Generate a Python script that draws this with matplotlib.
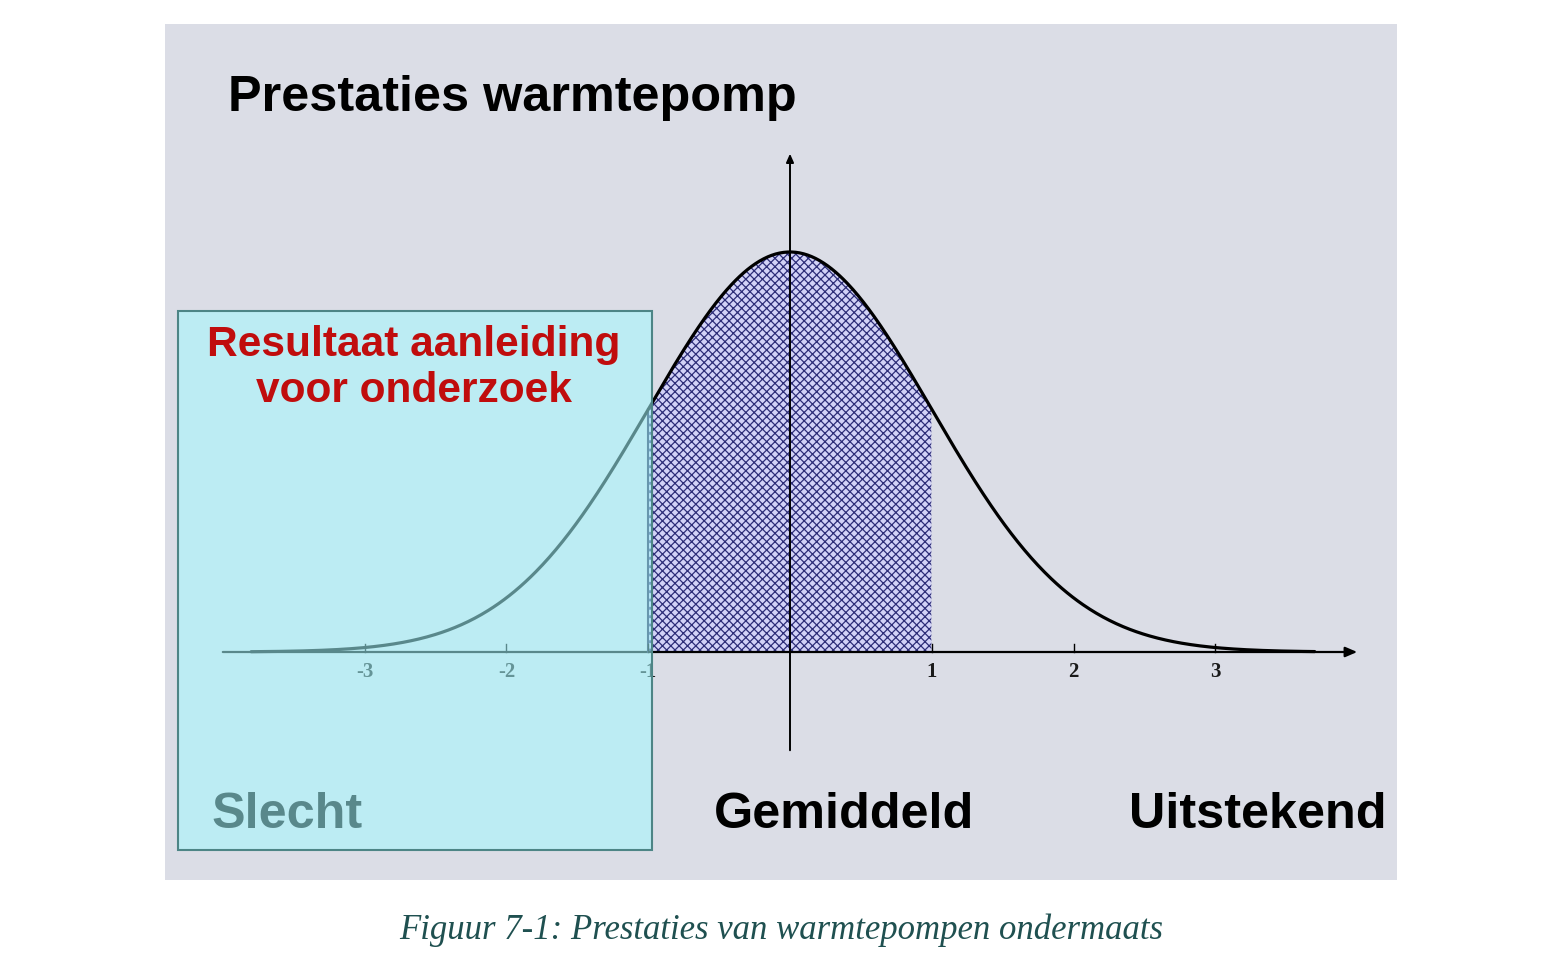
import numpy as np
import matplotlib
matplotlib.use("Agg")
import matplotlib.pyplot as plt
from matplotlib.patches import Rectangle

# ---- data ----
title = "Prestaties warmtepomp"
mean = 0.0
std = 1.0
tick_values = [-3, -2, -1, 1, 2, 3]
tick_labels = ["-3", "-2", "-1", "1", "2", "3"]
shade_range = [-1.0, 1.0]
curve_range = [-3.8, 3.7]
axis_range = [-4.0, 4.0]
category_labels = ["Slecht", "Gemiddeld", "Uitstekend"]
note_text = "Resultaat aanleiding\nvoor onderzoek"
caption = "Figuur 7-1: Prestaties van warmtepompen ondermaats"

W, H = 1568, 960
fig = plt.figure(figsize=(W / 100, H / 100), dpi=100)
fig.patch.set_facecolor("white")

# pixel mapping of the plotting axes
px_per_x = 141.8
px_per_y = 1002.7
x0_px, y0_px = 790, 652
ax = fig.add_axes([0, 0, 1, 1])
ax.set_xlim(-x0_px / px_per_x, (W - x0_px) / px_per_x)
ax.set_ylim(-(H - y0_px) / px_per_y, y0_px / px_per_y)
ax.axis("off")
FT = fig.transFigure

def fx(px):
    return px / W

def fy(py):
    return 1 - py / H

# gray panel
ax.add_patch(Rectangle((fx(165), fy(880)), fx(1397) - fx(165), fy(24) - fy(880),
                       transform=FT, facecolor="#dbdde6", edgecolor="none",
                       zorder=0, clip_on=False))

x = np.linspace(curve_range[0], curve_range[1], 800)
pdf = np.exp(-0.5 * ((x - mean) / std) ** 2) / (std * np.sqrt(2 * np.pi))

# shaded region
plt.rcParams["hatch.color"] = "#2e2e78"
plt.rcParams["hatch.linewidth"] = 0.9
m = (x >= shade_range[0]) & (x <= shade_range[1])
ax.fill_between(x[m], 0, pdf[m], facecolor="#d2d2f7", edgecolor="#2e2e78",
                hatch="xxxx", linewidth=0, zorder=2)

# curve
ax.plot(x, pdf, color="black", lw=2.3, zorder=4, solid_capstyle="round")

# axes with arrows
ax.annotate("", xy=(axis_range[1], 0), xytext=(axis_range[0], 0),
            arrowprops=dict(arrowstyle="-|>,head_length=0.7,head_width=0.3",
                            color="black", lw=1.6, shrinkA=0, shrinkB=0), zorder=3)
ax.annotate("", xy=(0, 0.497), xytext=(0, -0.098),
            arrowprops=dict(arrowstyle="-|>,head_length=0.5,head_width=0.22",
                            color="black", lw=1.4, shrinkA=0, shrinkB=0), zorder=3)
# shade border at -1
ax.plot([shade_range[0], shade_range[0]], [0, np.exp(-0.5) / np.sqrt(2 * np.pi)],
        color="#1f1f4a", lw=1.5, zorder=3)

# ticks
for v, lab in zip(tick_values, tick_labels):
    ax.plot([v, v], [0, 0.008], color="black", lw=1.0, zorder=3)
    ax.text(v, -0.010, lab, ha="center", va="top", fontsize=15,
            family="Liberation Serif", fontweight="bold", color="#1a1a1a", zorder=3)

# title
ax.text(fx(228), fy(98), title, transform=FT, ha="left", va="center", fontsize=36.3,
        family="Liberation Sans", fontweight="bold", color="black", zorder=3)

# category labels
cat_x = [287, 844, 1258]
for cx, lab in zip(cat_x, category_labels):
    ax.text(fx(cx), fy(815), lab, transform=FT, ha="center", va="center", fontsize=36.3,
            family="Liberation Sans", fontweight="bold", color="black", zorder=3)

# translucent cyan box on top
ax.add_patch(Rectangle((fx(178), fy(850)), fx(652) - fx(178), fy(311) - fy(850),
                       transform=FT, facecolor="#a4faff", alpha=0.55,
                       edgecolor="none", zorder=5, clip_on=False))
ax.add_patch(Rectangle((fx(178), fy(850)), fx(652) - fx(178), fy(311) - fy(850),
                       transform=FT, facecolor="none", edgecolor="#4d8586",
                       lw=1.5, zorder=6, clip_on=False))

ax.text(fx(414), fy(368), note_text, transform=FT, ha="center", va="center",
        fontsize=30.6, family="Liberation Sans", fontweight="bold", color="#c00d0d",
        linespacing=1.2, zorder=7)

# caption
ax.text(fx(781), fy(930), caption, transform=FT, ha="center", va="center",
        fontsize=25, family="Liberation Serif", style="italic", color="#1f5050",
        zorder=7)

fig.savefig("out.png", dpi=100)
